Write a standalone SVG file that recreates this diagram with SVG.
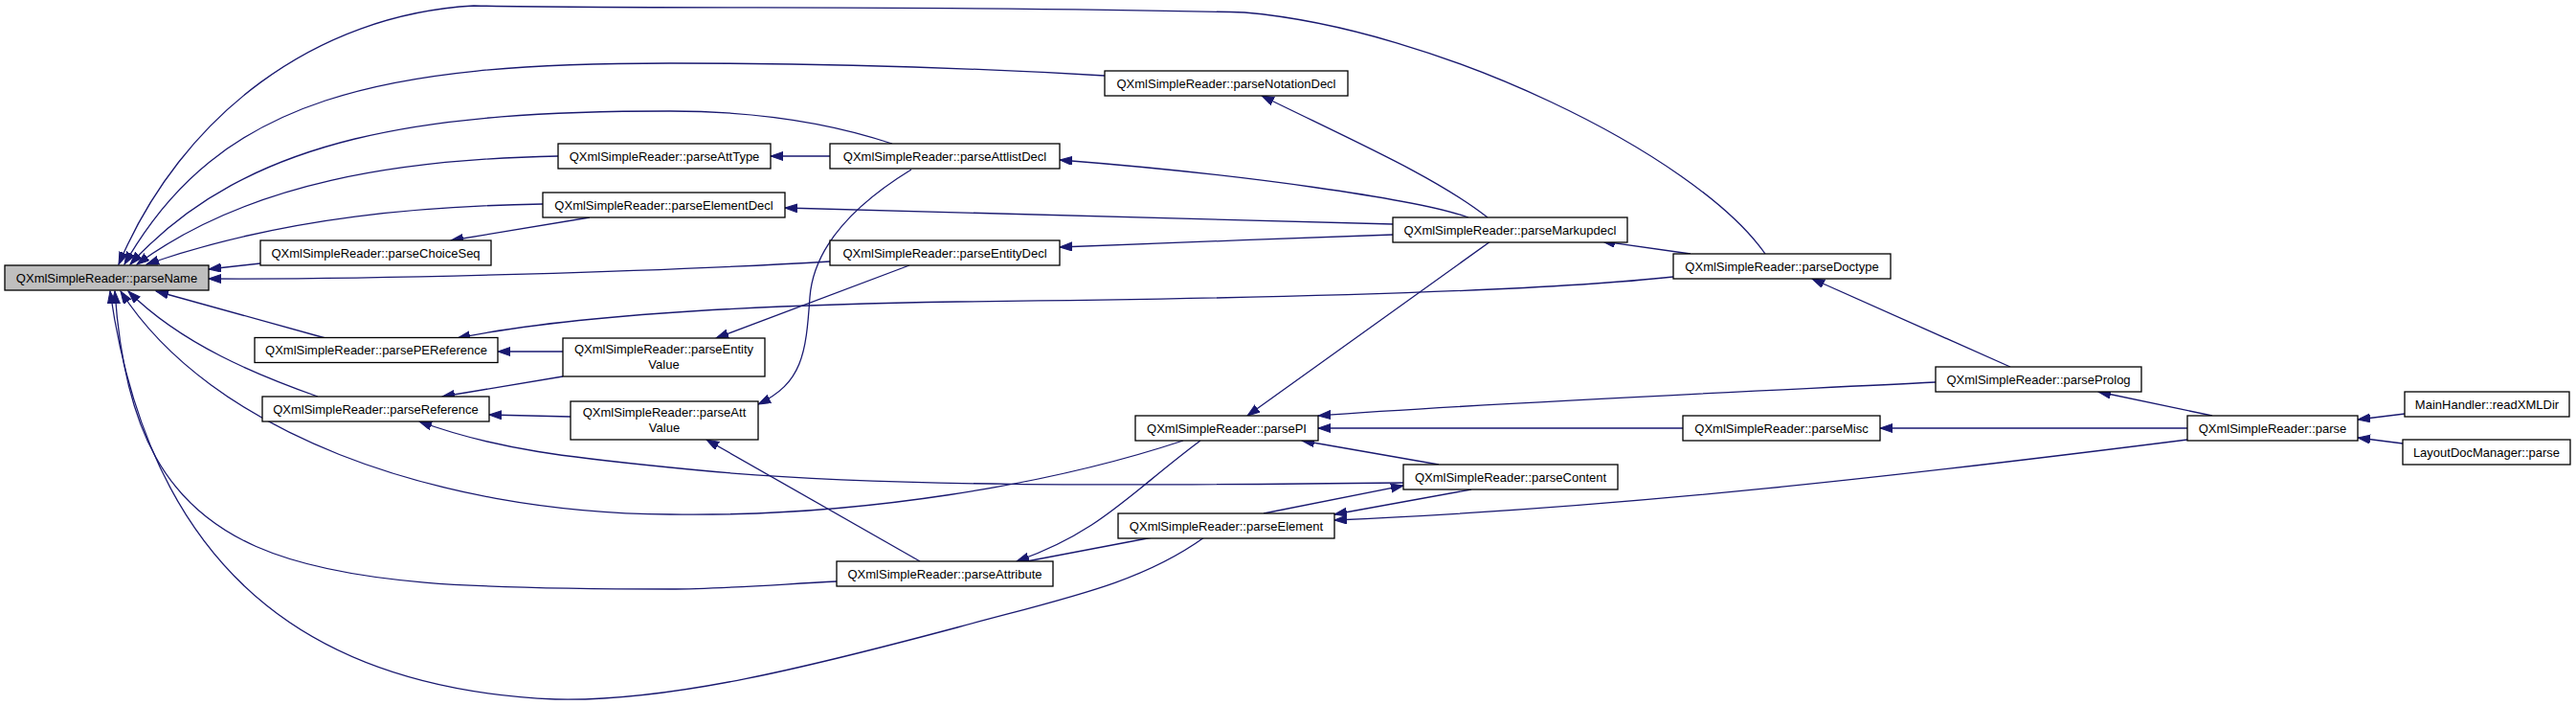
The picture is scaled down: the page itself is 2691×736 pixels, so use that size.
<svg xmlns="http://www.w3.org/2000/svg" width="2691" height="736" viewBox="0 0 2691 736">
<style>
.n rect{fill:#ffffff;stroke:#000000;stroke-width:1.3}
.n.cur rect{fill:#bfbfbf}
.n text{font-family:"Liberation Sans",Arial,sans-serif;font-size:13px;fill:#000000;text-anchor:middle}
#edges path{fill:none;stroke:#191970;stroke-width:1.3;marker-end:url(#arr)}
</style>
<defs>
<marker id="arr" markerUnits="userSpaceOnUse" markerWidth="14" markerHeight="10" refX="13" refY="4.5" orient="auto">
<path d="M0,0 L13,4.5 L0,9 z" fill="#191970" stroke="#191970" stroke-width="1"/>
</marker>
</defs>
<rect x="0" y="0" width="2691" height="736" fill="#ffffff"/>
<g id="edges">
<path d="M1844,265 C1770,160 1500,30 1300,13 C1000,5 700,10 495,6 C330,15 190,120 124,276"/>
<path d="M1154,79 C1000,70 850,66 700,66 C400,66 230,100 130,276"/>
<path d="M932,150 C860,126 780,116 700,116 C450,116 260,140 136,276"/>
<path d="M583,163 C420,166 260,190 143,276"/>
<path d="M567,213 C450,215 300,225 153,276"/>
<path d="M272,275 L218,281"/>
<path d="M867,273 C700,283 400,292 218,291"/>
<path d="M340,353 L163,304"/>
<path d="M332,414 C270,392 190,360 134,304"/>
<path d="M1236,460 C1100,505 900,540 700,537 C450,535 220,450 126,304"/>
<path d="M874,607 C800,611 750,615 700,615 C300,615 140,600 120,304"/>
<path d="M1258,561 C1190,610 1110,625 1000,655 C850,695 700,733 580,730 C350,720 160,620 115,304"/>
<path d="M867,163 L805,163"/>
<path d="M1455,234 C1200,229 1000,222 820,217"/>
<path d="M616,227 L471,251"/>
<path d="M1534,227 C1480,208 1300,182 1107,167"/>
<path d="M1554,227 C1500,185 1420,150 1318,100"/>
<path d="M1455,245 C1350,249 1200,254 1107,258"/>
<path d="M1766,265 L1674,252"/>
<path d="M1748,289 C1600,305 1300,312 1000,315 C800,318 600,328 478,353"/>
<path d="M588,367 L520,367"/>
<path d="M950,277 L748,353"/>
<path d="M588,393 L462,414"/>
<path d="M596,435 L511,433"/>
<path d="M952,177 C890,215 850,260 846,310 C842,370 838,400 792,422"/>
<path d="M961,586 L738,459"/>
<path d="M1557,252 L1303,434"/>
<path d="M2022,399 C1800,410 1550,421 1377,434"/>
<path d="M1758,447 L1377,447"/>
<path d="M1503,485 L1360,460"/>
<path d="M1254,460 C1180,515 1150,555 1062,586"/>
<path d="M1204,561 L1062,588"/>
<path d="M1320,536 L1466,507"/>
<path d="M1537,511 L1394,537"/>
<path d="M2285,459 C2000,495 1700,530 1394,543"/>
<path d="M1466,504 C1200,507 900,510 700,488 C600,478 520,470 438,440"/>
<path d="M2285,447 L1964,447"/>
<path d="M2311,434 L2192,409"/>
<path d="M2100,383 L1893,291"/>
<path d="M2512,432 L2463,438"/>
<path d="M2510,463 L2463,457"/>
</g>
<g id="parseName" class="n cur"><rect x="5" y="277" width="213" height="26"/><text x="111.5" y="294.5">QXmlSimpleReader::parseName</text></g>
<g id="parseChoiceSeq" class="n"><rect x="272" y="251" width="241" height="26"/><text x="392.5" y="268.5">QXmlSimpleReader::parseChoiceSeq</text></g>
<g id="parsePEReference" class="n"><rect x="266" y="352.5" width="254" height="26"/><text x="393" y="370">QXmlSimpleReader::parsePEReference</text></g>
<g id="parseAttType" class="n"><rect x="583" y="150" width="222" height="26"/><text x="694" y="167.5">QXmlSimpleReader::parseAttType</text></g>
<g id="parseElementDecl" class="n"><rect x="567" y="201" width="253" height="26"/><text x="693.5" y="218.5">QXmlSimpleReader::parseElementDecl</text></g>
<g id="parseEntityValue" class="n"><rect x="588" y="353" width="211" height="40"/><text x="693.5" y="369">QXmlSimpleReader::parseEntity</text><text x="693.5" y="385">Value</text></g>
<g id="parseReference" class="n"><rect x="274" y="414" width="237" height="26"/><text x="392.5" y="431.5">QXmlSimpleReader::parseReference</text></g>
<g id="parseAttValue" class="n"><rect x="596" y="419" width="196" height="40"/><text x="694" y="435">QXmlSimpleReader::parseAtt</text><text x="694" y="451">Value</text></g>
<g id="parseNotationDecl" class="n"><rect x="1154" y="74" width="254" height="26"/><text x="1281" y="91.5">QXmlSimpleReader::parseNotationDecl</text></g>
<g id="parseAttlistDecl" class="n"><rect x="867" y="150" width="240" height="26"/><text x="987" y="167.5">QXmlSimpleReader::parseAttlistDecl</text></g>
<g id="parseEntityDecl" class="n"><rect x="867" y="251" width="240" height="26"/><text x="987" y="268.5">QXmlSimpleReader::parseEntityDecl</text></g>
<g id="parsePI" class="n"><rect x="1186" y="434" width="191" height="26"/><text x="1281.5" y="451.5">QXmlSimpleReader::parsePI</text></g>
<g id="parseElement" class="n"><rect x="1168" y="536" width="226" height="26"/><text x="1281" y="553.5">QXmlSimpleReader::parseElement</text></g>
<g id="parseAttribute" class="n"><rect x="874" y="586" width="226" height="26"/><text x="987" y="603.5">QXmlSimpleReader::parseAttribute</text></g>
<g id="parseMarkupdecl" class="n"><rect x="1455" y="227" width="245" height="26"/><text x="1577.5" y="244.5">QXmlSimpleReader::parseMarkupdecl</text></g>
<g id="parseDoctype" class="n"><rect x="1748" y="265" width="227" height="26"/><text x="1861.5" y="282.5">QXmlSimpleReader::parseDoctype</text></g>
<g id="parseProlog" class="n"><rect x="2022" y="383" width="215" height="26"/><text x="2129.5" y="400.5">QXmlSimpleReader::parseProlog</text></g>
<g id="parseMisc" class="n"><rect x="1758" y="434" width="206" height="26"/><text x="1861" y="451.5">QXmlSimpleReader::parseMisc</text></g>
<g id="parseContent" class="n"><rect x="1466" y="485" width="224" height="26"/><text x="1578" y="502.5">QXmlSimpleReader::parseContent</text></g>
<g id="parse" class="n"><rect x="2285" y="434" width="178" height="26"/><text x="2374" y="451.5">QXmlSimpleReader::parse</text></g>
<g id="readXMLDir" class="n"><rect x="2512" y="409" width="172" height="26"/><text x="2598" y="426.5">MainHandler::readXMLDir</text></g>
<g id="layoutParse" class="n"><rect x="2510" y="459" width="175" height="26"/><text x="2597.5" y="476.5">LayoutDocManager::parse</text></g>
</svg>
